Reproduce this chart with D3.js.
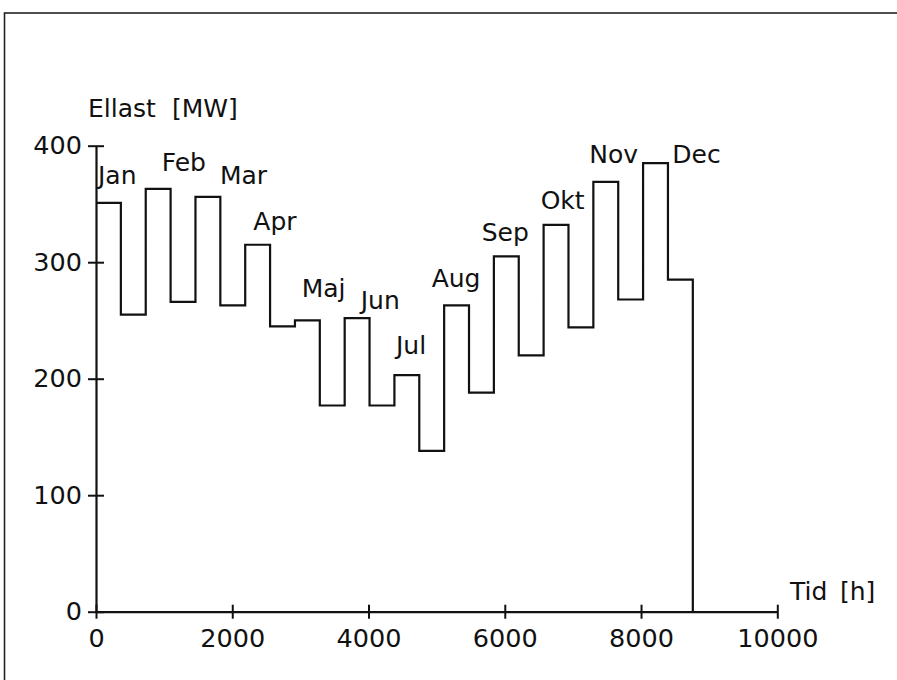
<!DOCTYPE html>
<html>
<head>
<meta charset="utf-8">
<script src="https://cdn.jsdelivr.net/npm/d3@7"></script>
<style>
  html, body { margin: 0; padding: 0; background: #fff; }
  svg { display: block; }
  text { font-family: "DejaVu Sans", sans-serif; fill: #111; }
</style>
</head>
<body>
<svg id="chart" width="897" height="680"></svg>
<script>
// ---- data ----
const months = ["Jan","Feb","Mar","Apr","Maj","Jun","Jul","Aug","Sep","Okt","Nov","Dec"];
const hoursPerMonth = 730;
const highLoad = [351, 363, 356, 315, 250, 252, 203, 263, 305, 332, 369, 385];
const lowLoad  = [255, 266, 263, 245, 177, 177, 138, 188, 220, 244, 268, 285];
// month label anchors in data units [hour, MW]
const labelHour = [29, 964, 1820, 2309, 3019, 3885, 4403, 4927, 5661, 6527, 7241, 8459];
const labelMW   = [367, 378, 367, 328, 270, 260, 221, 279, 318, 346, 385, 385];
const xTicks = [0, 2000, 4000, 6000, 8000, 10000];
const yTicks = [0, 100, 200, 300, 400];
const xTitle = ["Tid", "[h]"];
const yTitle = ["Ellast", "[MW]"];

// ---- scales ----
const svg = d3.select("#chart");
const x = d3.scaleLinear().domain([0, 10000]).range([96, 777.3]);
const y = d3.scaleLinear().domain([0, 400]).range([611.7, 145.7]);

// frame
svg.append("rect")
  .attr("x", 4.5).attr("y", 13)
  .attr("width", 1000).attr("height", 1000)
  .attr("fill", "none").attr("stroke", "#222").attr("stroke-width", 1.6);

// ---- step series ----
const pts = [];
months.forEach((m, i) => {
  const s = i * hoursPerMonth;
  pts.push([s, highLoad[i]]);
  pts.push([s + hoursPerMonth / 2, lowLoad[i]]);
});
pts.push([months.length * hoursPerMonth, 0]);

const line = d3.line()
  .x(d => x(d[0])).y(d => y(d[1]))
  .curve(d3.curveStepAfter);

svg.append("path")
  .datum(pts)
  .attr("d", line)
  .attr("fill", "none")
  .attr("stroke", "#111")
  .attr("stroke-width", 2.2)
  .attr("stroke-linejoin", "miter");

// ---- axes ----
const ax = svg.append("g").attr("transform", `translate(0,${y(0)})`)
  .call(d3.axisBottom(x).tickValues(xTicks).tickFormat(d3.format("d"))
        .tickSizeOuter(0).tickSizeInner(7).tickPadding(10));
const ay = svg.append("g").attr("transform", `translate(${x(0)},0)`)
  .call(d3.axisLeft(y).tickValues(yTicks).tickFormat(d3.format("d"))
        .tickSizeOuter(0).tickSizeInner(8).tickPadding(6));

ax.selectAll(".tick line").attr("y1", -7).attr("y2", 7);
ay.selectAll(".tick line").attr("x1", -8).attr("x2", 8);
[ax, ay].forEach(g => {
  g.select(".domain").attr("stroke", "#111").attr("stroke-width", 2.2);
  g.selectAll(".tick line").attr("stroke", "#111").attr("stroke-width", 2);
  g.selectAll(".tick text")
    .attr("font-family", "DejaVu Sans, sans-serif")
    .attr("font-size", 25.5)
    .attr("fill", "#111");
});

// axis titles
const yt = svg.append("text").attr("y", 116.7).attr("font-size", 25);
yt.append("tspan").attr("x", 88).text(yTitle[0]);
yt.append("tspan").attr("x", 172).text(yTitle[1]);
const xt = svg.append("text").attr("y", 600).attr("font-size", 25);
xt.append("tspan").attr("x", 790).text(xTitle[0]);
xt.append("tspan").attr("x", 840).text(xTitle[1]);

// month labels
svg.append("g").selectAll("text")
  .data(months)
  .join("text")
  .attr("x", (d, i) => x(labelHour[i]))
  .attr("y", (d, i) => y(labelMW[i]))
  .attr("font-size", 25)
  .text(d => d);
</script>
</body>
</html>
